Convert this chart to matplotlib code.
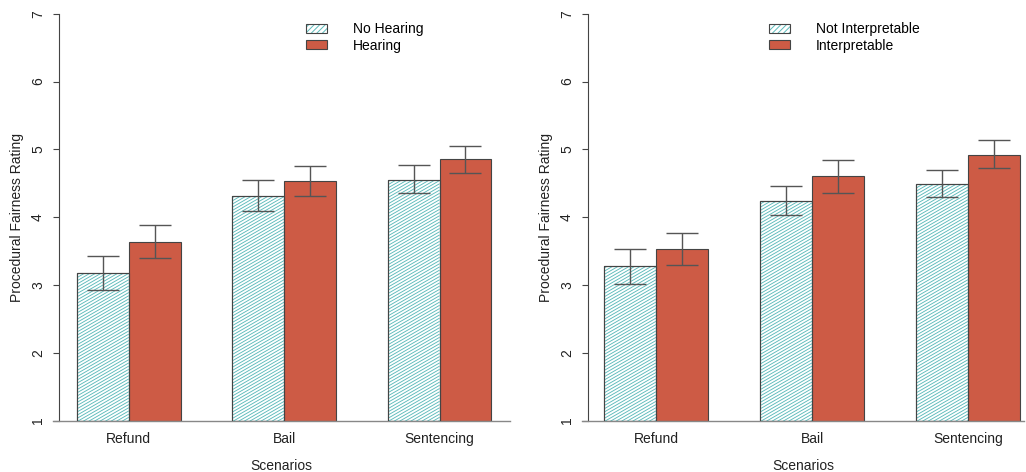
import matplotlib
matplotlib.use('Agg')
import matplotlib.pyplot as plt
import numpy as np
from matplotlib.patches import Patch
from matplotlib.legend_handler import HandlerTuple
from matplotlib.collections import LineCollection

plt.rcParams['font.family'] = ['Liberation Sans', 'DejaVu Sans']
plt.rcParams['hatch.linewidth'] = 0.7

# ---------------- data ----------------
scenarios = ['Refund', 'Bail', 'Sentencing']

hearing_labels = ['No Hearing', 'Hearing']
no_hearing = [3.17, 4.31, 4.55]
no_hearing_lo = [2.92, 4.09, 4.35]
no_hearing_hi = [3.42, 4.54, 4.77]
hearing = [3.64, 4.53, 4.85]
hearing_lo = [3.39, 4.31, 4.65]
hearing_hi = [3.88, 4.75, 5.05]

interp_labels = ['Not Interpretable', 'Interpretable']
not_interp = [3.28, 4.24, 4.49]
not_interp_lo = [3.02, 4.03, 4.29]
not_interp_hi = [3.53, 4.46, 4.70]
interp = [3.53, 4.60, 4.92]
interp_lo = [3.29, 4.36, 4.72]
interp_hi = [3.77, 4.84, 5.13]

y_ticks = [1, 2, 3, 4, 5, 6, 7]

# ---------------- style ----------------
W, H = 1026, 472
RED = '#CD5B45'
TEAL = '#5BBABA'
EDGE = '#444444'
ERR = '#555555'
TXT = '#222222'
FS = 10

fig = plt.figure(figsize=(W / 100, H / 100), dpi=100)


def px_axes(l, r, t, b):
    return fig.add_axes([l / W, 1 - b / H, (r - l) / W, (b - t) / H])


def hatch_patch(ax, rect, angle=30, spacing_px=3.2):
    x0, y0 = rect.get_x(), rect.get_y()
    w, h = rect.get_width(), rect.get_height()
    p0 = ax.transData.transform((0, 0))
    p1 = ax.transData.transform((1, 1))
    sx, sy = p1[0] - p0[0], p1[1] - p0[1]
    k = np.tan(np.radians(angle)) * sx / sy
    step = spacing_px / sy
    cs = np.arange(y0 - k * w - step, y0 + h + step, step)
    segs = [[(x0, c), (x0 + w, c + k * w)] for c in cs]
    lc = LineCollection(segs, colors=TEAL, linewidths=0.65, zorder=2)
    ax.add_collection(lc)
    lc.set_clip_path(rect)


def panel(ax, a_vals, a_lo, a_hi, b_vals, b_lo, b_hi, labels, xlim, leg_xy):
    centers = np.array([2.0, 5.0, 8.0])
    xa = centers - 0.5
    xb = centers + 0.5
    ax.set_xlim(*xlim)
    ax.set_ylim(1, 7)
    bars_a = ax.bar(xa, np.array(a_vals) - 1, width=1.0, bottom=1,
                    color='white', edgecolor=EDGE, linewidth=0.8, zorder=1)
    bars_b = ax.bar(xb, np.array(b_vals) - 1, width=1.0, bottom=1,
                    color=RED, edgecolor=EDGE, linewidth=0.8, zorder=1)
    for r in bars_a:
        hatch_patch(ax, r)
    for r in bars_a:
        ax.add_patch(plt.Rectangle((r.get_x(), r.get_y()), r.get_width(), r.get_height(),
                                   fill=False, edgecolor=EDGE, linewidth=0.8, zorder=3))
    for x, v, lo, hi in ((xa, a_vals, a_lo, a_hi), (xb, b_vals, b_lo, b_hi)):
        v = np.array(v)
        ax.errorbar(x, v, yerr=[v - np.array(lo), np.array(hi) - v], fmt='none',
                    ecolor=ERR, elinewidth=1.0, capsize=11.5, capthick=1.0, zorder=4)

    for s in ('top', 'right'):
        ax.spines[s].set_visible(False)
    ax.spines['left'].set_position(('outward', -4.32))
    ax.spines['left'].set_bounds(1, 7)
    ax.spines['left'].set_color(EDGE)
    ax.spines['bottom'].set_color('#888888')
    ax.spines['bottom'].set_linewidth(1.0)
    ax.set_yticks(y_ticks)
    ax.set_yticklabels([str(t) for t in y_ticks])
    ax.tick_params(axis='y', length=4.32, width=0.8, color=EDGE, pad=5.8,
                   labelrotation=90, labelsize=FS, labelcolor=TXT)
    for lab in ax.get_yticklabels():
        lab.set_va('center')
    ax.set_xticks(centers)
    ax.set_xticklabels(scenarios)
    ax.tick_params(axis='x', length=0, pad=8, labelsize=FS, labelcolor=TXT)
    ax.set_xlabel('Scenarios', fontsize=FS, color=TXT, labelpad=10)
    ax.set_ylabel('Procedural Fairness Rating', fontsize=FS, color=TXT, labelpad=5)

    h_a = (Patch(facecolor='white', edgecolor=TEAL, hatch='//////', linewidth=0),
           Patch(facecolor='none', edgecolor=EDGE, linewidth=0.8))
    h_b = Patch(facecolor=RED, edgecolor=EDGE, linewidth=0.8)
    ax.legend([h_a, h_b], labels, loc='upper left',
              bbox_to_anchor=(leg_xy[0] / W, 1 - leg_xy[1] / H),
              bbox_transform=fig.transFigure, frameon=False, fontsize=FS,
              handlelength=1.5, handleheight=0.6, handletextpad=1.9,
              labelspacing=0.2, borderpad=0, borderaxespad=0,
              handler_map={tuple: HandlerTuple(ndivide=1, pad=0)})


ax1 = px_axes(53, 510, 13.7, 420.5)
panel(ax1, no_hearing, no_hearing_lo, no_hearing_hi,
      hearing, hearing_lo, hearing_hi, hearing_labels,
      ((53 - 25.2) / 51.8, (510 - 25.2) / 51.8), (306, 22))

ax2 = px_axes(582, 1024, 13.7, 420.5)
panel(ax2, not_interp, not_interp_lo, not_interp_hi,
      interp, interp_lo, interp_hi, interp_labels,
      ((582 - 552) / 52.0, (1024 - 552) / 52.0), (769, 22))

fig.savefig('out.png', dpi=100)
